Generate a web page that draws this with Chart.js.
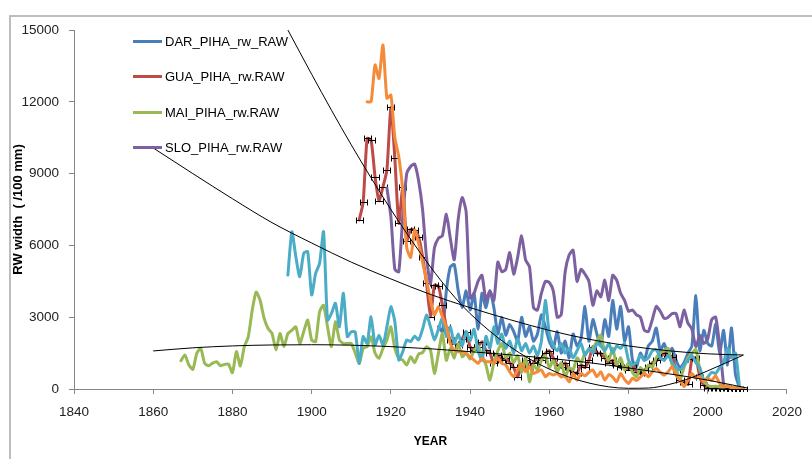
<!DOCTYPE html>
<html>
<head>
<meta charset="utf-8">
<script src="https://cdn.jsdelivr.net/npm/chart.js@4.4.0/dist/chart.umd.min.js"></script>
<style>
    body { margin: 0; background: #fff; }
    #wrap { position: relative; width: 812px; height: 459px; overflow: hidden; background: #fff; }
    #frame { position: absolute; left: 9px; top: 15px; width: 900px; height: 600px; border-left: 2px solid #bdbdbd; border-top: 2px solid #bdbdbd; }
    #chart { position: absolute; left: 0; top: 0; }
    .legend-item { position: absolute; left: 133px; height: 16px; display: flex; align-items: center; white-space: nowrap;
        font: 13px "Liberation Sans", Arial, sans-serif; color: #000; }
    .legend-item i { display: inline-block; width: 29px; height: 3px; margin-right: 3px; }
</style>
</head>
<body>
<div id="wrap">
    <div id="frame"></div>
    <canvas id="chart" width="812" height="459"></canvas>
    <div id="legend"></div>
</div>
<script>
// ring width series, one value per year from the start year
const darStart = 1932;
const darValues = [
    2600, 2400, 4100, 5100, 5200, 4100, 3400, 4100, 3300, 4000,
    2500, 4000, 3400, 4100, 3400, 2300, 3000, 2250, 2700, 2400,
    2000, 3000, 2200, 2600, 2000, 2300, 3100, 2600, 2000, 1700,
    2400, 1500, 2000, 1300, 2300, 1800, 2100, 3450, 2000, 2900,
    2300, 1800, 2900, 2200, 3700, 2500, 3450, 2000, 2600, 1200,
    930, 1500, 1200, 1800, 2000, 2550, 1600, 1900, 1400, 1700,
    1200, 900, 1100, 1500, 1800, 3900, 1600, 2450, 1900, 1800,
    2700, 1500, 2450, 1000, 2550, 600, 50
];

const guaStart = 1912;
const guaValues = [
    7060, 7800, 10470, 10400, 8870, 7870, 8450, 9150, 11770, 9640,
    6920, 8420, 6200, 6670, 6640, 6360, 5530, 4410, 3020, 4340,
    4300, 3510, 2600, 2050, 1900, 1840, 2100, 2390, 1770, 1630,
    1770, 1980, 1630, 1500, 1070, 1400, 1200, 1300, 1100, 900,
    500, 1000, 1200, 900, 1100, 1300, 1200, 1500, 1600, 1300,
    1000, 900, 1100, 800, 700, 650, 1000, 900, 1210, 1770,
    1500, 1490, 1300, 1100, 1200, 1000, 900, 930, 800, 1000,
    700, 650, 800, 900, 1100, 1200, 1300, 1500, 1400, 1350,
    800, 370, 300, 200, 1250, 1300, 500, 150, 40, 30,
    40, 30, 20, 30, 20, 20, 10, 10
];

const maiStart = 1867;
const maiValues = [
    1180, 1420, 1000,
    820, 1490, 1700, 1070, 970, 1080, 1140, 970, 1030, 1040,
    680, 1560, 960, 1770, 2180, 3300, 4050, 3700, 2950, 2530,
    2320, 1630, 2320, 1770, 2320, 2450, 2600, 1900, 2400, 2880,
    2050, 1980, 3230, 3500, 2600, 1770, 2810, 2050, 1900, 1900,
    1900, 1500, 1070, 1700, 1770, 2180, 1500, 1280, 1700, 2050,
    2600, 1700, 1280, 1210, 1000, 1350, 1100, 1460, 1520, 1770,
    1630, 650, 1490, 2320, 1200, 1700, 1300, 1900, 1350, 1500,
    1250, 1600, 1800, 1400, 1000, 370, 1100, 1600, 1900, 1300,
    1500, 1100, 1400, 700, 1300, 300, 1000, 800, 1200, 1400,
    900, 1200, 700, 1100, 500, 900, 800, 1300, 1100, 1500,
    1600, 1700, 2000, 2250, 1500, 1200, 1700, 1000, 1300, 800,
    1100, 700, 500, 900, 700, 1000, 900, 1300, 1500, 1600,
    1700, 1000, 800, 400, 900, 1300, 1500, 1650, 800, 400,
    150, 100, 120, 90, 80, 100, 60, 50, 40, 30
];

const sloStart = 1919;
const sloValues = [
    8400,
    7200, 5000, 4900, 7200, 9000, 9300, 9400, 8700, 7500, 5500,
    4400, 5900, 6300, 6400, 7300, 6300, 5400, 7100, 8000, 7400,
    3800, 4000, 4500, 4750, 3700, 4100, 3700, 5300, 4900, 5000,
    5700, 4800, 5500, 6400, 5400, 5100, 3400, 3300, 4000, 4500,
    4450, 4100, 3000, 3100, 4900, 5600, 5800, 4500, 5000, 4800,
    4500, 3500, 4100, 3850, 4550, 3700, 4750, 4550, 4000, 3700,
    3250, 3300, 3100, 3000, 2450, 2400, 2900, 3450, 3250, 2950,
    3000, 3150, 3150, 2600, 3300, 2750, 2500, 1770, 2250, 1900,
    2100, 2900, 3000, 1800, 150
];

// two more series that are plotted but have no legend entry
const series5Start = 1894;
const series5Values = [
    4760, 6570, 5530, 4690, 5670, 5740,
    3930, 4830, 5250, 6570, 2880, 3160, 3580, 2600, 4000, 2190,
    2390, 2390, 1070, 2190, 1910, 3020, 1840, 2250, 1840, 2600,
    3440, 2810, 1210, 1560, 2050, 1980, 2210, 2050, 2500, 3090,
    2600, 2050, 2500, 2950, 2200, 2600, 1900, 2300, 1800, 2400,
    2000, 2500, 1600, 1200, 2200, 1700, 2600, 1900, 2300, 1700,
    2000, 1500, 2100, 1600, 1900, 1500, 1800, 1400, 2000, 3700,
    2300, 1800, 1600, 1900, 1500, 1700, 1300, 1600, 1900, 1400,
    1700, 1500, 1900, 1800, 1600, 1900, 1500, 1800, 1700, 1900,
    1200, 1000, 1100, 1400, 1200, 1300, 1600, 1650, 1300, 1200,
    1400, 1100, 900, 800, 1000, 1200, 1400, 1100, 900, 300,
    500, 700, 650, 900, 1100, 1700, 1300, 1500, 100
];

const series6Start = 1914;
const series6Values = [
    12000, 12000, 13540, 12980, 14370, 12150,
    12280, 10500, 9700, 8300, 5900, 5500, 6640, 6080, 5300, 4550,
    3700, 3100, 3440, 3020, 2600, 1900, 1630, 1560, 1560, 1490,
    1350, 1210, 1070, 1280, 1140, 1140, 1070, 1280, 1070, 1000,
    720, 510, 790, 1070, 720, 930, 650, 720, 790, 510,
    650, 580, 650, 500, 550, 300, 650, 370, 650, 550,
    700, 790, 510, 720, 370, 600, 500, 300, 650, 400,
    230, 450, 350, 500, 650, 510, 720, 860, 700, 580,
    720, 930, 580, 370, 100, 370, 650, 450, 510, 300,
    440, 350, 550, 240, 100, 150, 60, 40, 30, 20
];

// black trend curves
const trendAYears = [1894, 1900, 1905, 1910, 1915, 1920, 1925, 1930, 1935, 1940, 1950, 1960, 1970, 1980, 1985, 1990, 1995, 2000, 2009];
const trendAValues = [15000, 13150, 11650, 10200, 8820, 7500, 6260, 5100, 4050, 3150, 1780, 830, 250, 30, 40, 180, 420, 760, 1420];
const trendBYears = [1860, 1870, 1880, 1890, 1900, 1910, 1920, 1930, 1940, 1950, 1960, 1970, 1980, 1990, 2000, 2009];
const trendBValues = [10070, 9000, 7950, 6950, 6100, 5300, 4600, 3950, 3400, 2900, 2450, 2080, 1800, 1600, 1470, 1420];
const trendCYears = [1860, 1870, 1880, 1890, 1900, 1910, 1920, 1930, 1940, 1950, 1960, 1970, 1980, 1990, 2000, 2010];
const trendCValues = [1590, 1720, 1800, 1840, 1850, 1830, 1770, 1680, 1560, 1430, 1280, 1100, 880, 640, 370, 40];

const xTicks = [1840, 1860, 1880, 1900, 1920, 1940, 1960, 1980, 2000, 2020];
const yTicks = [0, 3000, 6000, 9000, 12000, 15000];

const errYears = 0.9; // half width of the GUA error bars

const legendSeries = [
    { label: 'DAR_PIHA_rw_RAW', color: '#4a7ebb' },
    { label: 'GUA_PIHA_rw.RAW', color: '#be4b48' },
    { label: 'MAI_PIHA_rw.RAW', color: '#98b954' },
    { label: 'SLO_PIHA_rw.RAW', color: '#7d60a0' }
];

function toPoints(start, values) {
    return values.map((v, i) => ({ x: start + i, y: v }));
}

function toXY(xs, ys) {
    return xs.map((x, i) => ({ x: x, y: ys[i] }));
}

function ringLine(label, color, data, order) {
    return {
        label: label,
        data: data,
        borderColor: color,
        backgroundColor: color,
        borderWidth: 3,
        pointRadius: 0,
        tension: 0.2,
        borderJoinStyle: 'round',
        borderCapStyle: 'round',
        order: order
    };
}

function trendLine(data) {
    return {
        label: '',
        data: data,
        borderColor: '#000',
        borderWidth: 1,
        pointRadius: 0,
        cubicInterpolationMode: 'monotone',
        order: 0
    };
}

// horizontal error bars on the GUA points, drawn right after that series
const errorBars = {
    id: 'errorBars',
    afterDatasetDraw(chart, args) {
        if (args.index !== 1) return;
        const xs = chart.scales.x, ys = chart.scales.y, ctx = chart.ctx, area = chart.chartArea;
        ctx.save();
        ctx.beginPath();
        ctx.rect(area.left, area.top - 3, area.right - area.left, area.bottom - area.top + 6);
        ctx.clip();
        ctx.strokeStyle = '#000';
        ctx.lineWidth = 1;
        guaValues.forEach((v, i) => {
            const yr = guaStart + i;
            const x0 = Math.round(xs.getPixelForValue(yr - errYears)) + 0.5;
            const x1 = Math.round(xs.getPixelForValue(yr + errYears)) + 0.5;
            const y = Math.round(ys.getPixelForValue(v)) + 0.5;
            ctx.beginPath();
            ctx.moveTo(x0, y); ctx.lineTo(x1, y);
            ctx.moveTo(x0, y - 3); ctx.lineTo(x0, y + 3);
            ctx.moveTo(x1, y - 3); ctx.lineTo(x1, y + 3);
            ctx.stroke();
        });
        ctx.restore();
    }
};

const tickFont = { family: '"Liberation Sans", Arial, sans-serif', size: 13.5 };
const axisColor = '#868686';

new Chart(document.getElementById('chart'), {
    type: 'line',
    data: {
        datasets: [
            ringLine(legendSeries[0].label, legendSeries[0].color, toPoints(darStart, darValues), 6),
            ringLine(legendSeries[1].label, legendSeries[1].color, toPoints(guaStart, guaValues), 5),
            ringLine(legendSeries[2].label, legendSeries[2].color, toPoints(maiStart, maiValues), 4),
            ringLine(legendSeries[3].label, legendSeries[3].color, toPoints(sloStart, sloValues), 3),
            ringLine('Series5', '#4bacc6', toPoints(series5Start, series5Values), 2),
            ringLine('Series6', '#f38b3a', toPoints(series6Start, series6Values), 1),
            trendLine(toXY(trendAYears, trendAValues)),
            trendLine(toXY(trendBYears, trendBValues)),
            trendLine(toXY(trendCYears, trendCValues))
        ]
    },
    options: {
        responsive: false,
        animation: false,
        devicePixelRatio: 1,
        layout: { padding: { top: 30, right: 15, left: 0, bottom: 0 } },
        plugins: { legend: { display: false }, tooltip: { enabled: false } },
        scales: {
            x: {
                type: 'linear',
                min: xTicks[0],
                max: xTicks[xTicks.length - 1],
                afterBuildTicks: s => { s.ticks = xTicks.map(v => ({ value: v })); },
                ticks: { padding: 10, color: '#222', font: tickFont, callback: v => String(v), maxRotation: 0 },
                grid: { drawOnChartArea: false, tickLength: 5, color: axisColor },
                border: { color: axisColor },
                title: { display: true, text: 'YEAR', color: '#000', font: { family: '"Liberation Sans", Arial, sans-serif', size: 12, weight: 'bold' }, padding: { top: 0, bottom: 10 } },
                afterFit: s => { s.height = 70; }
            },
            y: {
                min: yTicks[0],
                max: yTicks[yTicks.length - 1],
                afterBuildTicks: s => { s.ticks = yTicks.map(v => ({ value: v })); },
                ticks: { padding: 10, color: '#222', font: tickFont, callback: v => String(v) },
                grid: { drawOnChartArea: false, tickLength: 5, color: axisColor },
                border: { color: axisColor },
                title: { display: true, text: 'RW width  ( /100 mm)', color: '#000', font: { family: '"Liberation Sans", Arial, sans-serif', size: 13, weight: 'bold' }, padding: { top: 11, bottom: 0 } },
                afterFit: s => { s.width = 74; }
            }
        }
    },
    plugins: [errorBars]
});

// legend box sits inside the plot area, top left
const legendTops = [41, 76, 112, 147];
const legendEl = document.getElementById('legend');
legendSeries.forEach((s, i) => {
    const item = document.createElement('div');
    item.className = 'legend-item';
    item.style.top = (legendTops[i] - 8) + 'px';
    item.innerHTML = '<i style="background:' + s.color + '"></i><span>' + s.label + '</span>';
    legendEl.appendChild(item);
});
</script>
</body>
</html>
